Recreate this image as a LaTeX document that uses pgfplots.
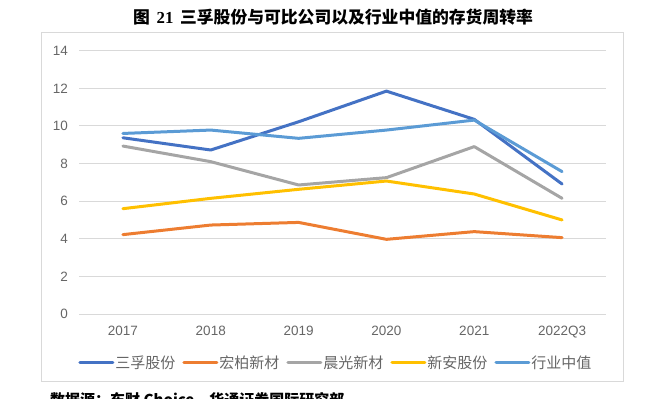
\documentclass[border=0pt]{standalone}
\usepackage{pgfplots}
\pgfplotsset{compat=1.18}
\usepackage{fontspec}
\setmainfont{Liberation Sans}
\newfontfamily\cjk{Noto Sans CJK SC}
\newfontfamily\tnr{Liberation Serif}
\definecolor{cA}{HTML}{4472C4}
\definecolor{cB}{HTML}{ED7D31}
\definecolor{cC}{HTML}{A5A5A5}
\definecolor{cD}{HTML}{FFC000}
\definecolor{cE}{HTML}{5B9BD5}
\definecolor{gridgray}{HTML}{D9D9D9}
\definecolor{boxgray}{HTML}{D9D9D9}
\definecolor{labelgray}{HTML}{666666}
\begin{document}
\begin{tikzpicture}[x=1bp,y=1bp]
\useasboundingbox (0,0) rectangle (651,398);
\clip (0,0) rectangle (651,398);
\draw[boxgray, line width=1bp] (41.7,16.3) rectangle (623.3,365.3);
\node[inner sep=0pt] at (333,380.5) {\fontsize{16.8bp}{18bp}\selectfont\cjk\bfseries 图\hspace{0.4em}{\tnr\bfseries 21}\hspace{0.4em}三孚股份与可比公司以及行业中值的存货周转率};
\node[inner sep=0pt, anchor=base west] at (50,-7) {\fontsize{15bp}{17bp}\selectfont\cjk\bfseries 数据源：东财 Choice，华通证券国际研究部};
\begin{axis}[
  at={(79bp,84bp)}, anchor=south west,
  scale only axis, width=527bp, height=263.3bp,
  xmin=-0.5, xmax=5.5, ymin=0, ymax=14,
  xtick={0,1,2,3,4,5},
  xticklabels={2017,2018,2019,2020,2021,2022Q3},
  ytick={0,2,4,6,8,10,12,14},
  ymajorgrids, grid style={gridgray, line width=0.9bp},
  axis line style={draw=none},
  major tick length=0pt,
  /pgf/number format/assume math mode=true,
  tick label style={font=\fontsize{13.5bp}{15bp}\selectfont, text=labelgray},
  yticklabel style={inner sep=0pt, anchor=east, xshift=-11bp},
  xticklabel style={inner sep=0pt, anchor=north, yshift=-12bp},
  legend columns=5,
  legend style={at={(0.4867,-0.185)}, anchor=center, draw=none, fill=none,
    font=\fontsize{15bp}{17bp}\selectfont\cjk, text=labelgray,
    nodes={inner sep=1bp},
    /tikz/every even column/.append style={column sep=6bp}},
  legend image code/.code={\draw[#1, line width=3bp] (0bp,0bp) -- (33bp,0bp);},
  every axis plot/.append style={line width=3bp, line join=round, line cap=round, mark=none},
]
\addplot[color=cA] coordinates {(0,9.37) (1,8.72) (2,10.22) (3,11.85) (4,10.35) (5,6.91)};
\addlegendentry{三孚股份}
\addplot[color=cB] coordinates {(0,4.22) (1,4.73) (2,4.87) (3,3.97) (4,4.38) (5,4.06)};
\addlegendentry{宏柏新材}
\addplot[color=cC] coordinates {(0,8.93) (1,8.10) (2,6.86) (3,7.25) (4,8.90) (5,6.15)};
\addlegendentry{晨光新材}
\addplot[color=cD] coordinates {(0,5.60) (1,6.15) (2,6.63) (3,7.07) (4,6.38) (5,5.00)};
\addlegendentry{新安股份}
\addplot[color=cE] coordinates {(0,9.60) (1,9.78) (2,9.34) (3,9.78) (4,10.31) (5,7.57)};
\addlegendentry{行业中值}
\end{axis}
\end{tikzpicture}
\end{document}
